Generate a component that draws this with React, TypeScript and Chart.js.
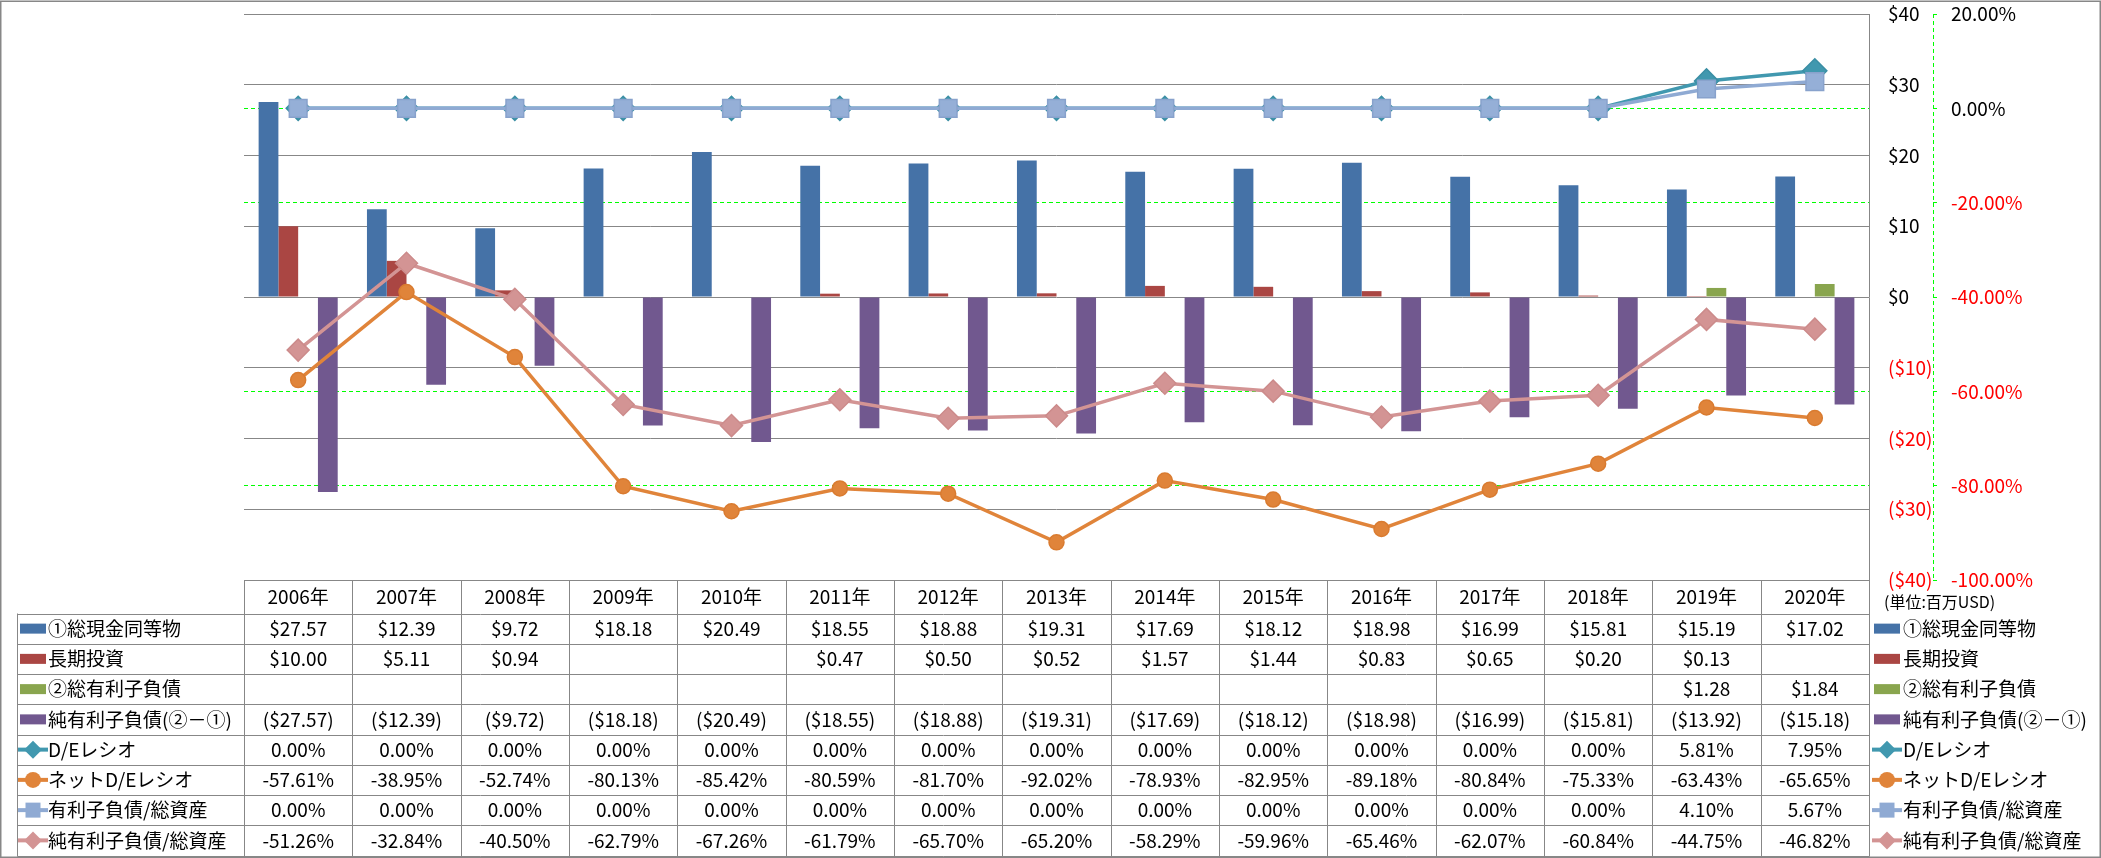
import React, { useEffect, useRef } from 'react';
import { Chart, registerables } from 'chart.js';

Chart.register(...registerables);

// ---------------- data ----------------
const years = ['2006年', '2007年', '2008年', '2009年', '2010年', '2011年', '2012年', '2013年', '2014年', '2015年', '2016年', '2017年', '2018年', '2019年', '2020年'];

const cashEquivalents = [27.57, 12.39, 9.72, 18.18, 20.49, 18.55, 18.88, 19.31, 17.69, 18.12, 18.98, 16.99, 15.81, 15.19, 17.02];
const longTermInvest = [10.0, 5.11, 0.94, null, null, 0.47, 0.5, 0.52, 1.57, 1.44, 0.83, 0.65, 0.2, 0.13, null];
const interestDebt = [null, null, null, null, null, null, null, null, null, null, null, null, null, 1.28, 1.84];
const netInterestDebt = [-27.57, -12.39, -9.72, -18.18, -20.49, -18.55, -18.88, -19.31, -17.69, -18.12, -18.98, -16.99, -15.81, -13.92, -15.18];

const deRatio = [0, 0, 0, 0, 0, 0, 0, 0, 0, 0, 0, 0, 0, 5.81, 7.95];
const netDeRatio = [-57.61, -38.95, -52.74, -80.13, -85.42, -80.59, -81.7, -92.02, -78.93, -82.95, -89.18, -80.84, -75.33, -63.43, -65.65];
const debtToAssets = [0, 0, 0, 0, 0, 0, 0, 0, 0, 0, 0, 0, 0, 4.1, 5.67];
const netDebtToAssets = [-51.26, -32.84, -40.5, -62.79, -67.26, -61.79, -65.7, -65.2, -58.29, -59.96, -65.46, -62.07, -60.84, -44.75, -46.82];

const seriesNames = ['①総現金同等物', '長期投資', '②総有利子負債', '純有利子負債(②－①)', 'D/Eレシオ', 'ネットD/Eレシオ', '有利子負債/総資産', '純有利子負債/総資産'];

const leftTicks = { min: -40, max: 40, step: 10 };
const rightTicks = { min: -100, max: 20, step: 20 };
const unitNote = '(単位:百万USD)';

// ---------------- styles ----------------
const FONT = "'Noto Sans CJK JP', 'Noto Sans', sans-serif";
const GRID = '#878787';
const GREEN = '#00ff00';
const C_BLUE = '#4572A7';
const C_RED = '#AA4643';
const C_GREEN = '#89A54E';
const C_PURPLE = '#71588F';
const C_TEAL = '#4198AF';
const C_ORANGE = '#E0843A';
const C_LBLUE = '#8FAAD3';
const C_PINK = '#D39494';

const money = (v: number | null) =>
  v === null || v === undefined ? '' : v < 0 ? `($${(-v).toFixed(2)})` : `$${v.toFixed(2)}`;
const pct = (v: number | null) => (v === null || v === undefined ? '' : `${v.toFixed(2)}%`);

type RowDef = { name: string; data: (number | null)[]; kind: 'bar' | 'line'; color: string; marker?: string; fmt: (v: number | null) => string };

const rows: RowDef[] = [
  { name: seriesNames[0], data: cashEquivalents, kind: 'bar', color: C_BLUE, fmt: money },
  { name: seriesNames[1], data: longTermInvest, kind: 'bar', color: C_RED, fmt: money },
  { name: seriesNames[2], data: interestDebt, kind: 'bar', color: C_GREEN, fmt: money },
  { name: seriesNames[3], data: netInterestDebt, kind: 'bar', color: C_PURPLE, fmt: money },
  { name: seriesNames[4], data: deRatio, kind: 'line', color: C_TEAL, marker: 'diamond', fmt: pct },
  { name: seriesNames[5], data: netDeRatio, kind: 'line', color: C_ORANGE, marker: 'circle', fmt: pct },
  { name: seriesNames[6], data: debtToAssets, kind: 'line', color: C_LBLUE, marker: 'square', fmt: pct },
  { name: seriesNames[7], data: netDebtToAssets, kind: 'line', color: C_PINK, marker: 'diamond', fmt: pct },
];

function drawKey(ctx: CanvasRenderingContext2D, row: RowDef, x0: number, yc: number) {
  ctx.save();
  if (row.kind === 'bar') {
    ctx.fillStyle = row.color;
    ctx.fillRect(x0 + 3, yc - 5, 26, 10);
  } else {
    ctx.strokeStyle = row.color;
    ctx.lineWidth = 4;
    ctx.beginPath();
    ctx.moveTo(x0 + 1, yc);
    ctx.lineTo(x0 + 31, yc);
    ctx.stroke();
    const cx = x0 + 16;
    ctx.fillStyle = row.color;
    ctx.beginPath();
    if (row.marker === 'diamond') {
      const r = 9;
      ctx.moveTo(cx - r, yc);
      ctx.lineTo(cx, yc - r);
      ctx.lineTo(cx + r, yc);
      ctx.lineTo(cx, yc + r);
      ctx.closePath();
    } else if (row.marker === 'circle') {
      ctx.arc(cx, yc, 8, 0, Math.PI * 2);
    } else {
      const h = 7.5;
      ctx.rect(cx - h, yc - h, 2 * h, 2 * h);
    }
    ctx.fill();
  }
  ctx.restore();
}

const tablePlugin = {
  id: 'dataTable',
  beforeDraw(chart: any) {
    const ctx = chart.ctx as CanvasRenderingContext2D;
    ctx.save();
    ctx.fillStyle = '#ffffff';
    ctx.fillRect(0, 0, chart.width, chart.height);
    ctx.restore();
  },
  afterDraw(chart: any) {
    const ctx = chart.ctx as CanvasRenderingContext2D;
    const ca = chart.chartArea;
    const xs = chart.scales.x;
    const y1 = chart.scales.y1;
    const n = years.length;
    const colW = (ca.right - ca.left) / n;
    const headTop = Math.round(ca.bottom) + 0.5;
    const headBot = 613.5;
    const bodyBot = 855.5;
    const rowH = (bodyBot - headBot) / rows.length;
    const labelLeft = 17.5;
    const rightEdge = Math.round(ca.right) + 0.5;

    ctx.save();
    // secondary axis dashed line
    ctx.strokeStyle = GREEN;
    ctx.lineWidth = 1;
    ctx.setLineDash([4, 3]);
    ctx.beginPath();
    const ax = Math.round(y1.left) + 0.5;
    ctx.moveTo(ax, ca.top);
    ctx.lineTo(ax, ca.bottom);
    ctx.stroke();
    ctx.setLineDash([]);

    // table grid
    ctx.strokeStyle = GRID;
    ctx.lineWidth = 1;
    ctx.beginPath();
    ctx.moveTo(Math.round(ca.left) + 0.5, headTop);
    ctx.lineTo(rightEdge, headTop);
    for (let i = 0; i <= rows.length; i++) {
      const y = Math.round(headBot + i * rowH) + 0.5;
      ctx.moveTo(labelLeft, y);
      ctx.lineTo(rightEdge, y);
    }
    for (let i = 0; i <= n; i++) {
      const x = Math.round(ca.left + i * colW) + 0.5;
      ctx.moveTo(x, headTop);
      ctx.lineTo(x, Math.round(bodyBot) + 0.5);
    }
    ctx.moveTo(labelLeft, headBot);
    ctx.lineTo(labelLeft, Math.round(bodyBot) + 0.5);
    ctx.stroke();

    // texts
    ctx.fillStyle = '#000000';
    ctx.textBaseline = 'middle';
    ctx.font = `19px ${FONT}`;
    ctx.textAlign = 'center';
    for (let i = 0; i < n; i++) {
      const cx = xs.getPixelForValue(i);
      ctx.fillText(years[i], cx, (headTop + headBot) / 2);
    }
    rows.forEach((row, r) => {
      const yc = headBot + (r + 0.5) * rowH;
      ctx.textAlign = 'center';
      ctx.fillStyle = '#000000';
      for (let i = 0; i < n; i++) {
        const cx = xs.getPixelForValue(i);
        ctx.fillText(row.fmt(row.data[i]), cx, yc);
      }
      drawKey(ctx, row, 17, yc);
      ctx.fillStyle = '#000000';
      ctx.textAlign = 'left';
      ctx.fillText(row.name, 48, yc);
      drawKey(ctx, row, 1871, yc);
      ctx.fillStyle = '#000000';
      ctx.fillText(row.name, 1903, yc);
    });

    // unit note
    ctx.font = `16px ${FONT}`;
    ctx.textAlign = 'left';
    ctx.fillText(unitNote, 1884, 602);

    // outer border
    ctx.strokeStyle = GRID;
    ctx.lineWidth = 1.5;
    ctx.strokeRect(0.75, 1.25, chart.width - 1.5, chart.height - 2);
    ctx.restore();
  },
};

const tickColor = (c: any) => (c.tick && c.tick.value < 0 ? '#ff0000' : '#000000');

export default function App() {
  const ref = useRef<HTMLCanvasElement>(null);
  useEffect(() => {
    document.body.style.margin = '0';
    document.body.style.overflow = 'hidden';
    const barBase = { type: 'bar' as const, borderWidth: 0, order: 10, yAxisID: 'y', barPercentage: 1, categoryPercentage: 0.73 };
    const lineBase = { type: 'line' as const, yAxisID: 'y1', borderWidth: 3.5, tension: 0, pointBorderWidth: 1.5 };
    const chart = new Chart(ref.current as HTMLCanvasElement, {
      type: 'bar',
      data: {
        labels: years,
        datasets: [
          { ...barBase, label: seriesNames[0], data: cashEquivalents, backgroundColor: C_BLUE },
          { ...barBase, label: seriesNames[1], data: longTermInvest, backgroundColor: C_RED },
          { ...barBase, label: seriesNames[2], data: interestDebt, backgroundColor: C_GREEN },
          { ...barBase, label: seriesNames[3], data: netInterestDebt, backgroundColor: C_PURPLE },
          { ...lineBase, label: seriesNames[4], data: deRatio, borderColor: C_TEAL, backgroundColor: C_TEAL, pointBackgroundColor: C_TEAL, pointBorderColor: '#3A8EA4', pointStyle: 'rectRot', pointRadius: 12, order: 4 },
          { ...lineBase, label: seriesNames[5], data: netDeRatio, borderColor: C_ORANGE, backgroundColor: C_ORANGE, pointBackgroundColor: C_ORANGE, pointBorderColor: '#D97B30', pointStyle: 'circle', pointRadius: 7.5, order: 3 },
          { ...lineBase, label: seriesNames[6], data: debtToAssets, borderColor: C_LBLUE, backgroundColor: C_LBLUE, pointBackgroundColor: '#95AFD7', pointBorderColor: '#88A2CC', pointStyle: 'rect', pointRadius: 12.5, order: 2 },
          { ...lineBase, label: seriesNames[7], data: netDebtToAssets, borderColor: C_PINK, backgroundColor: C_PINK, pointBackgroundColor: C_PINK, pointBorderColor: '#CC8B8B', pointStyle: 'rectRot', pointRadius: 11, order: 1 },
        ] as any,
      },
      options: {
        responsive: false,
        animation: false,
        layout: { padding: { left: 244, right: 48, top: 13, bottom: 278 } },
        plugins: { legend: { display: false }, tooltip: { enabled: false } },
        scales: {
          x: { type: 'category', display: false, offset: true },
          y: {
            position: 'right',
            min: leftTicks.min,
            max: leftTicks.max,
            ticks: {
              stepSize: leftTicks.step,
              padding: 19,
              color: tickColor,
              font: { size: 19, family: FONT },
              callback: (v: any) => (v < 0 ? `($${-v})` : `$${v}`),
            },
            grid: { color: GRID, lineWidth: 1, drawTicks: false },
            border: { display: true, color: GRID, width: 1 },
            afterFit: (s: any) => {
              s.width = 64;
              s.paddingTop = 0;
              s.paddingBottom = 0;
            },
          },
          y1: {
            position: 'right',
            weight: 1,
            min: rightTicks.min,
            max: rightTicks.max,
            ticks: {
              stepSize: rightTicks.step,
              padding: 14,
              color: tickColor,
              font: { size: 19, family: FONT },
              callback: (v: any) => `${Number(v).toFixed(2)}%`,
            },
            grid: {
              color: (c: any) => (c.tick && (c.tick.value === 20 || c.tick.value === -100 || c.tick.value === -40) ? 'rgba(0,0,0,0)' : GREEN),
              lineWidth: 1,
              drawTicks: true,
              tickLength: 4,
              tickColor: GREEN,
            },
            border: { display: false, dash: [4, 3] },
            afterFit: (s: any) => {
              s.width = 120;
              s.paddingTop = 0;
              s.paddingBottom = 0;
            },
          },
        },
      } as any,
      plugins: [tablePlugin],
    });
    return () => chart.destroy();
  }, []);
  return <canvas ref={ref} width={2101} height={858} style={{ display: 'block', width: 2101, height: 858 }} />;
}
